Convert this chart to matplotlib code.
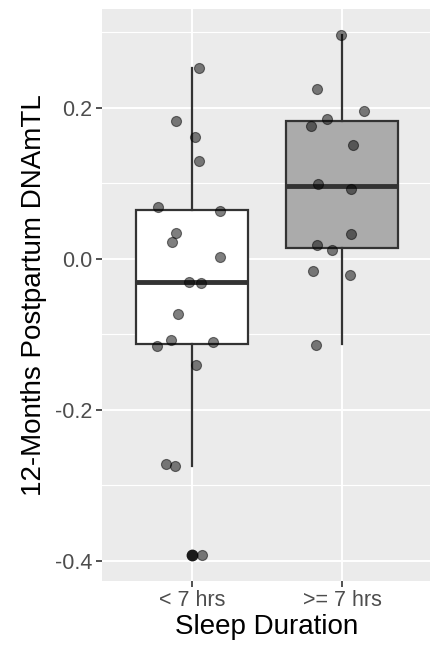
import matplotlib
matplotlib.use("Agg")
import matplotlib.pyplot as plt
import numpy as np

plt.rcParams['font.family'] = ['Liberation Sans', 'DejaVu Sans']

# groups
categories = ["< 7 hrs", ">= 7 hrs"]

# DNAmTL values
short_vals = [0.253, 0.182, 0.162, 0.130, 0.069, 0.064, 0.034, 0.023, 0.003,
              -0.030, -0.032, -0.073, -0.108, -0.116, -0.110, -0.141,
              -0.272, -0.274, -0.392]
long_vals = [0.297, 0.225, 0.196, 0.185, 0.176, 0.151, 0.099, 0.093, 0.033,
             0.018, 0.012, -0.016, -0.021, -0.114]

# horizontal jitter of each point (in category units)
short_jit = [0.047, -0.107, 0.018, 0.047, -0.225, 0.189, -0.109, -0.131, 0.187,
             -0.022, 0.062, -0.095, -0.138, -0.233, 0.142, 0.027,
             -0.175, -0.115, 0.069]
long_jit = [-0.005, -0.167, 0.149, -0.1, -0.207, 0.073, -0.16, 0.058, 0.06,
            -0.165, -0.069, -0.195, 0.053, -0.175]

# box statistics (lower whisker, q1, median, q3, upper whisker, outliers)
box_stats = [
    dict(whislo=-0.274, q1=-0.1126, med=-0.030, q3=0.065, whishi=0.253, fliers=[-0.392]),
    dict(whislo=-0.113, q1=0.014, med=0.097, q3=0.183, whishi=0.297, fliers=[]),
]
box_fill = ["#ffffff", "#ababab"]
y_ticks = [-0.4, -0.2, 0.0, 0.2]
y_minor = [-0.3, -0.1, 0.1, 0.3]

fig = plt.figure(figsize=(4.30, 6.46), dpi=100)
# panel runs a little past the right edge, like the original
ax = fig.add_axes([0.2372, 0.101, 0.7674, 0.885])
ax.set_facecolor("#ebebeb")

pos = np.arange(1, len(categories) + 1)

bp = ax.bxp(box_stats, positions=pos, widths=0.75, patch_artist=True,
            showcaps=False, manage_ticks=False,
            boxprops=dict(edgecolor="#333333", linewidth=1.6),
            whiskerprops=dict(color="#333333", linewidth=1.6),
            medianprops=dict(color="#333333", linewidth=3.5),
            flierprops=dict(marker="o", markerfacecolor="#1a1a1a",
                            markeredgecolor="#1a1a1a", markersize=7.5))
for patch, c in zip(bp["boxes"], box_fill):
    patch.set_facecolor(c)

for p, vals, jit in zip(pos, [short_vals, long_vals], [short_jit, long_jit]):
    ax.scatter(p + np.array(jit), vals, s=52, facecolor="black",
               edgecolor="black", linewidths=0.8, alpha=0.5, zorder=4)

# grid / ticks
ax.set_xticks(pos, categories)
ax.set_yticks(y_ticks, ["-0.4", "-0.2", "0.0", "0.2"])
ax.set_yticks(y_minor, minor=True)
ax.grid(which="major", color="white", linewidth=1.4)
ax.grid(which="minor", axis="y", color="white", linewidth=0.8)
ax.set_axisbelow(True)

ax.set_xlim(0.4, 2.6)
ax.set_ylim(-0.4265, 0.331)
ax.tick_params(axis="both", which="major", length=4, width=1.2, color="#333333",
               labelsize=15.5, labelcolor="#4d4d4d", pad=3)
ax.tick_params(axis="y", which="minor", length=0)
for s in ax.spines.values():
    s.set_visible(False)

ax.set_xlabel("Sleep Duration", fontsize=20, color="black", labelpad=2)
ax.set_ylabel("12-Months Postpartum DNAmTL", fontsize=20, color="black", labelpad=6)

fig.savefig("out.png", dpi=100)
